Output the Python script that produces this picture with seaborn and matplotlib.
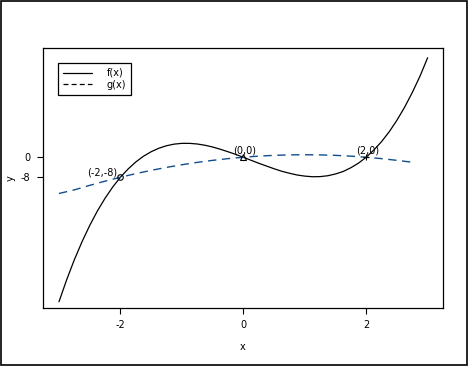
import matplotlib
matplotlib.use("Agg")
import matplotlib.pyplot as plt
import seaborn as sns
import pandas as pd
from matplotlib.lines import Line2D
from matplotlib.patches import Rectangle

# values
x_vals = [-3, -2.875, -2.75, -2.625, -2.5, -2.375, -2.25, -2.125, -2, -1.875, -1.75, -1.625,
          -1.5, -1.375, -1.25, -1.125, -1, -0.875, -0.75, -0.625, -0.5, -0.375, -0.25, -0.125,
          0, 0.125, 0.25, 0.375, 0.5, 0.625, 0.75, 0.875, 1, 1.125, 1.25, 1.375,
          1.5, 1.625, 1.75, 1.875, 2, 2.125, 2.25, 2.375, 2.5, 2.625, 2.75, 2.875, 3]
f_vals = [-57.8, -49.0, -41.0, -33.8, -27.3, -21.5, -16.4, -11.9, -8.0, -4.7, -1.9, 0.4,
          2.2, 3.6, 4.6, 5.25, 5.55, 5.55, 5.3, 4.8, 4.1, 3.2, 2.2, 1.15,
          0, -1.2, -2.4, -3.5, -4.6, -5.6, -6.4, -7.1, -7.55, -7.8, -7.75, -7.4,
          -6.7, -5.7, -4.2, -2.35, 0, 2.9, 6.25, 10.2, 14.8, 20.0, 25.9, 32.4, 39.8]
g_x = [-3, -2.75, -2.5, -2.25, -2, -1.75, -1.5, -1.25, -1, -0.75, -0.5, -0.25, 0,
       0.25, 0.5, 0.75, 1, 1.25, 1.5, 1.75, 2, 2.25, 2.5, 2.75]
g_vals = [-14.5, -13.06, -11.25, -9.56, -8.0, -6.56, -5.25, -4.06, -3.0, -2.06, -1.25, -0.56, 0,
          0.44, 0.75, 0.94, 1.0, 0.94, 0.75, 0.44, 0, -0.56, -1.25, -2.0]
pt_labels = ["(-2,-8)", "(0,0)", "(2,0)"]
pt_x = [-2, 0, 2]
pt_y = [-8, 0, 0]
pt_markers = ["o", "^", "+"]

sns.set_theme(style="ticks")
plt.rcParams["font.family"] = ["DejaVu Sans"]
plt.rcParams["font.size"] = 7
for key in ["text.color", "axes.labelcolor", "xtick.color", "ytick.color"]:
    plt.rcParams[key] = "black"

df_f = pd.DataFrame({"x": x_vals, "y": f_vals})
df_g = pd.DataFrame({"x": g_x, "y": g_vals})

fig = plt.figure(figsize=(4.68, 3.66), dpi=100)
ax = fig.add_axes([0.0919, 0.1585, 0.8547, 0.7104])

blue = "#124e8c"
sns.lineplot(data=df_f, x="x", y="y", color="black", linewidth=0.9, sort=False, ax=ax)
sns.lineplot(data=df_g, x="x", y="y", color=blue, linewidth=1.0, sort=False, ax=ax,
             dashes=False, linestyle=(0, (6, 4)))

for lab, px, py, m in zip(pt_labels, pt_x, pt_y, pt_markers):
    ax.plot(px, py, marker=m, markersize=4, color="black",
            markerfacecolor="none", markeredgewidth=0.8)
    if px < 0:
        ax.annotate(lab, (px, py), xytext=(-2, 0), textcoords="offset points",
                    ha="right", va="bottom", fontsize=7)
    else:
        ax.annotate(lab, (px, py), xytext=(1, 1.5), textcoords="offset points",
                    ha="center", va="bottom", fontsize=7)

ax.set_xlim(-3.26, 3.25)
ax.set_ylim(-60.3, 43.7)
ax.set_xticks([-2, 0, 2])
ax.set_xticklabels(["-2", "0", "2"])
ax.set_yticks([-8, 0])
ax.set_yticklabels(["-8", "0"])
ax.set_xlabel("x", fontsize=7, labelpad=8)
ax.set_ylabel("y", fontsize=7, labelpad=4)
ax.tick_params(direction="out", length=4, width=0.8, labelsize=7, pad=5, color="black")
for s in ax.spines.values():
    s.set_visible(True)
    s.set_color("black")
    s.set_linewidth(0.9)

handles = [Line2D([], [], color="black", linewidth=0.9),
           Line2D([], [], color="black", linewidth=0.9, linestyle=(0, (4, 2.5)))]
ax.legend(handles, ["f(x)", "g(x)"], loc="upper left", bbox_to_anchor=(0.0375, 0.942),
          borderaxespad=0, fancybox=False, edgecolor="black", framealpha=1,
          fontsize=7, handlelength=3, labelspacing=0.2, borderpad=0.5, handletextpad=1.5)
ax.get_legend().get_frame().set_linewidth(0.9)

fig.patches.append(Rectangle((0.002, 0.003), 0.996, 0.994, transform=fig.transFigure,
                             fill=False, edgecolor="black", linewidth=1.2))

plt.savefig("out.png", dpi=100)
plt.close()
